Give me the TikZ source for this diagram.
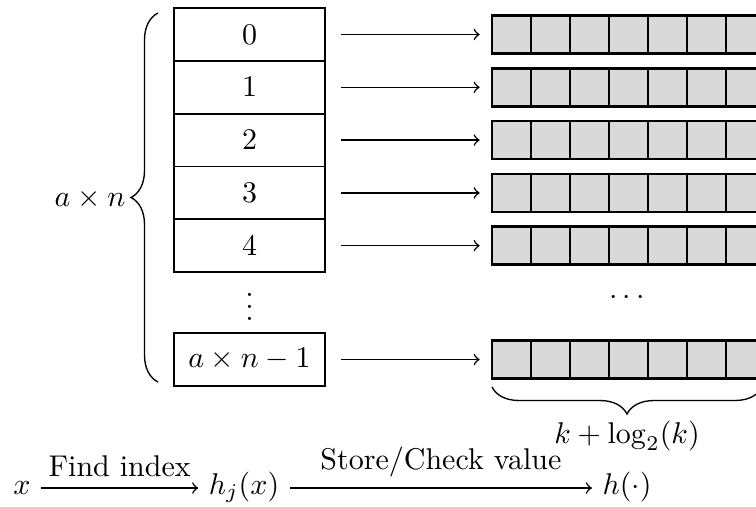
\documentclass[tikz,border=0pt]{standalone}
\usetikzlibrary{decorations.pathreplacing}
\begin{document}
\begin{tikzpicture}[x=0.3333pt,y=-0.3333pt,
  slot/.style={draw, line width=0.55pt, minimum width=50.33pt, minimum height=17.6pt, inner sep=0pt},
  cell/.style={draw, fill=gray!30, line width=0.85pt, minimum width=13pt, minimum height=12.67pt, inner sep=0pt},
  arr/.style={->, line width=0.5pt, shorten <=5pt, shorten >=3.67pt},
  flow/.style={->, line width=0.5pt},
  brc/.style={decorate, decoration={brace, amplitude=9pt}, line width=0.45pt},
  lbl/.style={inner sep=3.33pt, text height=1.5ex, text depth=0.5ex}]
\clip (0,0) rectangle (756,506);
% left column of slots
\foreach \i in {0,...,4} {
  \node[slot] (b\i) at (249.5,34.5+52.8*\i) {$\i$};
  \foreach \j in {0,...,6}
    \node[cell] (c\i-\j) at (511.5+39*\j,34.5+52.8*\i) {};
  \draw[arr] (b\i.east) -- (c\i-0.west);
}
\node (vd) at (249.5,298) {$\vdots$};
\node[slot] (bN) at (249.5,359.5) {$a\times n-1$};
\foreach \j in {0,...,6}
  \node[cell] (cN-\j) at (511.5+39*\j,359.5) {};
\draw[arr] (bN.east) -- (cN-0.west);
\node (hd) at (627,298) {$\cdots$};
% braces
\coordinate (lb1) at (158,382);
\coordinate (lb2) at (158,13);
\draw[brc] (lb1) -- (lb2);
\node (an) at (90,199) {$a\times n$};
\coordinate (bb1) at (762,387);
\coordinate (bb2) at (492,387);
\draw[brc] (bb1) -- (bb2);
\node (kl) at (627,436) {$k+\log_2(k)$};
% bottom flow
\node[lbl] (x) at (22,488) {$x$};
\node[lbl] (hj) at (244,488) {$h_j(x)$};
\node[lbl] (h) at (627,488) {$h(\cdot)$};
\draw[flow] (x) -- node[above] {Find index} (hj);
\draw[flow] (hj) -- node[above] {Store/Check value} (h);
\end{tikzpicture}
\end{document}
